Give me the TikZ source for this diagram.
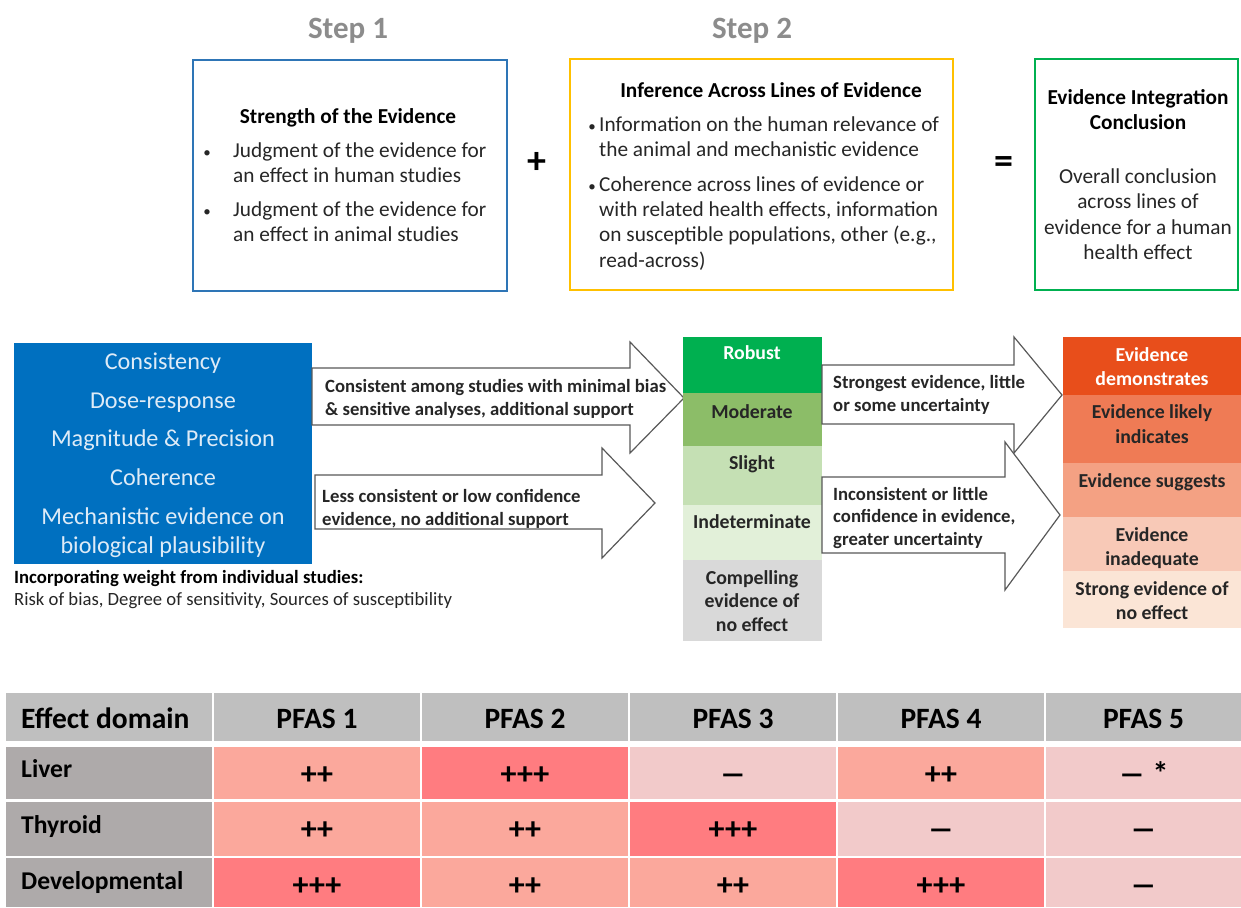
\documentclass[tikz,border=0pt]{standalone}
\usepackage{fontspec}
\usepackage{graphicx}
\setmainfont{Carlito}

\definecolor{stepgray}{HTML}{8C8C8C}
\definecolor{boxblue}{HTML}{2E75B6}
\definecolor{boxgold}{HTML}{FFC000}
\definecolor{boxgreen}{HTML}{00B050}
\definecolor{midblue}{HTML}{0070C0}
\definecolor{paleblue}{HTML}{DEEBF7}
\definecolor{txtdark}{HTML}{262626}
\definecolor{arrowline}{HTML}{595959}
\definecolor{lvrobust}{HTML}{00B050}
\definecolor{lvmoderate}{HTML}{8CBD68}
\definecolor{lvslight}{HTML}{C5E0B4}
\definecolor{lvindet}{HTML}{E2F0D9}
\definecolor{lvnone}{HTML}{D9D9D9}
\definecolor{cdemo}{HTML}{E84E1B}
\definecolor{clikely}{HTML}{EF7B55}
\definecolor{csugg}{HTML}{F4A183}
\definecolor{cinad}{HTML}{F8C9B7}
\definecolor{cstrong}{HTML}{FBE5D6}
\definecolor{hdrgray}{HTML}{BFBFBF}
\definecolor{labgray}{HTML}{AEAAAA}
\definecolor{vhigh}{HTML}{FF7C80}
\definecolor{vmid}{HTML}{FBA89C}
\definecolor{vlow}{HTML}{F2CACA}

% place a list of text lines one below the other
% #1 name prefix, #2 style, #3 x, #4 y of first line, #5 line step, #6 lines
\newcommand{\stacklines}[6]{%
  \foreach \txt [count=\k] in {#6}{%
    \node[#2] (#1\k) at (#3,{#4+(\k-1)*(#5)}) {\txt};}}
% a stretched dash for the "no evidence" table entries
\newcommand{\nodash}{\scalebox{1.7}[1]{–}}

\tikzset{
  stephead/.style={font=\fontsize{31}{36}\selectfont\bfseries, text=stepgray, inner sep=0pt},
  boxtitle/.style={font=\fontsize{21.3}{25}\selectfont\bfseries, text=black, inner sep=0pt, anchor=mid, yshift=-4pt},
  boxtext/.style={font=\fontsize{21.3}{25}\selectfont, text=txtdark, inner sep=0pt, anchor=mid west, yshift=-4pt},
  boxtextc/.style={boxtext, anchor=mid},
  bulletmark/.style={font=\fontsize{15}{18}\selectfont, text=txtdark, inner sep=0pt, anchor=mid, yshift=-4pt},
  framebox/.style={line width=2.5pt},
  opsign/.style={font=\fontsize{38}{40}\selectfont\bfseries, inner sep=0pt},
  critline/.style={font=\fontsize{24.2}{28}\selectfont, text=paleblue, inner sep=0pt, anchor=mid, yshift=-5pt},
  notebold/.style={font=\fontsize{18.7}{22}\selectfont\bfseries, inner sep=0pt, anchor=mid west, yshift=-3.5pt},
  noteplain/.style={font=\fontsize{18.7}{22}\selectfont, text=txtdark, inner sep=0pt, anchor=mid west, yshift=-3.5pt},
  blockarrow/.style={draw=arrowline, fill=white, line width=1.2pt, line join=miter},
  arrowtext/.style={font=\fontsize{18.7}{22}\selectfont\bfseries, text=txtdark, inner sep=0pt, anchor=mid west, yshift=-4pt},
  level/.style={font=\fontsize{19.8}{23}\selectfont\bfseries, inner sep=0pt, anchor=mid, text=txtdark, yshift=-4pt},
  hdr/.style={font=\fontsize{29.5}{33}\selectfont\bfseries, inner sep=0pt, anchor=mid, yshift=-7pt},
  rowlab/.style={font=\fontsize{25.6}{30}\selectfont\bfseries, inner sep=0pt, anchor=mid west, yshift=-7pt},
  val/.style={font=\fontsize{32}{36}\selectfont\bfseries, inner sep=0pt, anchor=mid, yshift=-7.5pt},
}

\begin{document}
\begin{tikzpicture}[x=1pt,y=-1pt]
\useasboundingbox[fill=white] (0,0) rectangle (1241,907);

% ---------- step headings ----------
\node[stephead] (step1) at (348,31) {Step 1};
\node[stephead] (step2) at (752,31) {Step 2};

% ---------- step 1 box ----------
\draw[framebox, draw=boxblue] (193,60) rectangle (507,291);
\node[boxtitle] (s1title) at (348,117) {Strength of the Evidence};
\stacklines{s1bul}{bulletmark}{207}{151}{59}{•,•}
\stacklines{s1a}{boxtext}{233}{151}{25.5}{{Judgment of the evidence for},{an effect in human studies}}
\stacklines{s1b}{boxtext}{233}{210}{25.5}{{Judgment of the evidence for},{an effect in animal studies}}

\node[opsign] (plus) at (537,163) {+};

% ---------- step 2 box ----------
\draw[framebox, draw=boxgold] (570,59) rectangle (953,290);
\node[boxtitle] (s2title) at (771,91) {Inference Across Lines of Evidence};
\stacklines{s2bul}{bulletmark}{592}{125}{60}{•,•}
\stacklines{s2a}{boxtext}{599}{125}{25.5}{{Information on the human relevance of},{the animal and mechanistic evidence}}
\stacklines{s2b}{boxtext}{599}{185}{25.3}{{Coherence across lines of evidence or},{with related health effects, information},{on susceptible populations, other (e.g.,},{read-across)}}

\node[opsign] (equals) at (1004,165) {=};

% ---------- conclusion box ----------
\draw[framebox, draw=boxgreen] (1035,59) rectangle (1238,290);
\stacklines{s3t}{boxtitle}{1138}{98}{25.5}{{Evidence Integration},{Conclusion}}
\stacklines{s3b}{boxtextc}{1138}{177}{25.5}{{Overall conclusion},{across lines of},{evidence for a human},{health effect}}

% ---------- considerations ----------
\fill[midblue] (14,343) rectangle (312,564);
\foreach \yy/\txt [count=\k] in {362/Consistency, 401/Dose-response, 439/Magnitude \& Precision,
    478/Coherence, 517/Mechanistic evidence on, 546/biological plausibility}
  \node[critline] (crit\k) at (163,\yy) {\txt};
\node[notebold] (notehead) at (14,578) {Incorporating weight from individual studies:};
\node[noteplain] (notebody) at (14,600) {Risk of bias, Degree of sensitivity, Sources of susceptibility};

% ---------- arrows into the strength levels ----------
\draw[blockarrow] (312,368) -- (630,368) -- (630,342) -- (684,398) -- (630,453) -- (630,425) -- (312,425) -- cycle;
\stacklines{a1}{arrowtext}{325}{386}{23}{{Consistent among studies with minimal bias},{\& sensitive analyses, additional support}}
\draw[blockarrow] (315,475) -- (602,475) -- (602,448) -- (655,503) -- (602,558) -- (602,529) -- (315,529) -- cycle;
\stacklines{a2}{arrowtext}{322}{496}{23}{{Less consistent or low confidence},{evidence, no additional support}}

% ---------- strength of evidence levels ----------
\fill[lvrobust]   (683,337) rectangle (822,393);
\fill[lvmoderate] (683,393) rectangle (822,446);
\fill[lvslight]   (683,446) rectangle (822,505);
\fill[lvindet]    (683,505) rectangle (822,560);
\fill[lvnone]     (683,560) rectangle (822,641);
\node[level, text=white] (robust) at (752,353) {Robust};
\node[level] (moderate) at (752,412) {Moderate};
\node[level] (slight) at (752,463) {Slight};
\node[level] (indet) at (752,522) {Indeterminate};
\stacklines{noeff}{level}{752}{578}{23.5}{{Compelling},{evidence of},{no effect}}

% ---------- arrows into the conclusions ----------
\draw[blockarrow] (822,365) -- (1014,365) -- (1014,337) -- (1062,395) -- (1014,453) -- (1014,424) -- (822,424) -- cycle;
\stacklines{a3}{arrowtext}{833}{382}{23}{{Strongest evidence, little},{or some uncertainty}}
\draw[blockarrow] (822,477) -- (1005,477) -- (1005,442) -- (1060,515) -- (1005,590) -- (1005,553) -- (822,553) -- cycle;
\stacklines{a4}{arrowtext}{833}{494}{22.5}{{Inconsistent or little},{confidence in evidence,},{greater uncertainty}}

% ---------- evidence integration conclusions ----------
\fill[cdemo]   (1063,337) rectangle (1241,395);
\fill[clikely] (1063,395) rectangle (1241,463);
\fill[csugg]   (1063,463) rectangle (1241,517);
\fill[cinad]   (1063,517) rectangle (1241,571);
\fill[cstrong] (1063,571) rectangle (1241,628);
\stacklines{demo}{level, text=white}{1152}{355}{24}{{Evidence},{demonstrates}}
\stacklines{likely}{level}{1152}{412}{25}{{Evidence likely},{indicates}}
\node[level] (sugg) at (1152,481) {Evidence suggests};
\stacklines{inad}{level}{1152}{535}{24}{{Evidence},{inadequate}}
\stacklines{strong}{level}{1152}{589}{24}{{Strong evidence of},{no effect}}

% ---------- summary table ----------
% header row
\fill[hdrgray] (6,693) rectangle (212,741);
\node[hdr, anchor=mid west] (hdr0) at (21,719) {Effect domain};
\foreach \xa/\xb [count=\c] in {214/420, 422/628, 630/836, 838/1044, 1046/1241}{
  \fill[hdrgray] (\xa,693) rectangle (\xb,741);
  \node[hdr] (hdr\c) at ({(\xa+\xb)/2},719) {PFAS \c};
}
% row labels
\fill[labgray] (6,747) rectangle (212,799);
\fill[labgray] (6,802) rectangle (212,856);
\fill[labgray] (6,858) rectangle (212,907);
\node[rowlab] (liver) at (21,768) {Liver};
\node[rowlab] (thyroid) at (21,824) {Thyroid};
\node[rowlab] (devel) at (21,880) {Developmental};
% cells: column edges, fill and value for each row
\foreach \xa/\xb/\cc/\vv [count=\c] in {214/420/vmid/++, 422/628/vhigh/+++, 630/836/vlow/\nodash, 838/1044/vmid/++, 1046/1241/vlow/\nodash\ *}{
  \fill[\cc] (\xa,747) rectangle (\xb,799);
  \node[val] (liverv\c) at ({(\xa+\xb)/2},775) {\vv};
}
\foreach \xa/\xb/\cc/\vv [count=\c] in {214/420/vmid/++, 422/628/vmid/++, 630/836/vhigh/+++, 838/1044/vlow/\nodash, 1046/1241/vlow/\nodash}{
  \fill[\cc] (\xa,802) rectangle (\xb,856);
  \node[val] (thyrv\c) at ({(\xa+\xb)/2},830) {\vv};
}
\foreach \xa/\xb/\cc/\vv [count=\c] in {214/420/vhigh/+++, 422/628/vmid/++, 630/836/vmid/++, 838/1044/vhigh/+++, 1046/1241/vlow/\nodash}{
  \fill[\cc] (\xa,858) rectangle (\xb,907);
  \node[val] (devv\c) at ({(\xa+\xb)/2},886) {\vv};
}
\end{tikzpicture}
\end{document}
